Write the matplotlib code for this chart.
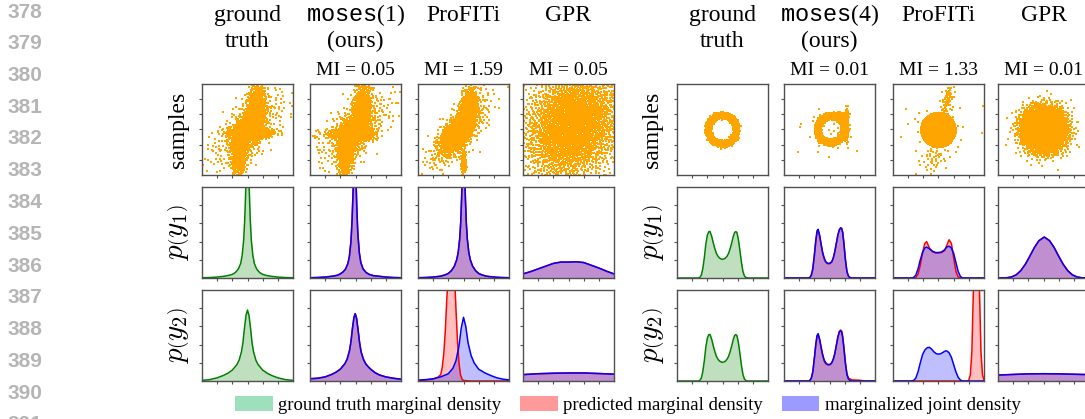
import numpy as np
import matplotlib.pyplot as plt
from matplotlib.patches import Patch

plt.rcParams['font.family'] = ['Liberation Serif', 'DejaVu Serif']
plt.rcParams['mathtext.fontset'] = 'custom'
plt.rcParams['mathtext.rm'] = 'Liberation Serif'
plt.rcParams['mathtext.tt'] = 'Liberation Mono'

W, H = 1085, 419

# ---- text ----
line_numbers = list(range(378, 392))
titles_left = [["ground", "truth"], [r"$\mathtt{moses}\mathrm{(1)}$", "(ours)"], ["ProFITi"], ["GPR"]]
titles_right = [["ground", "truth"], [r"$\mathtt{moses}\mathrm{(4)}$", "(ours)"], ["ProFITi"], ["GPR"]]
mi_left = [None, "0.05", "1.59", "0.05"]
mi_right = [None, "0.01", "1.33", "0.01"]
row_labels = ["samples", r"$p\left(y_1\right)$", r"$p\left(y_2\right)$"]
legend_labels = ["ground truth marginal density", "predicted marginal density", "marginalized joint density"]

# ---- samples: mixture pieces read off the clouds (count, centre, spread) ----
# gauss: (n, mx, my, sx, sy, rho) ; ring: (n, cx, cy, radius, width) ; disk: (n, cx, cy, radius)
smp_gt1 = [("gauss", 1100, 0.0, -0.25, 0.55, 0.18, 0.0),
           ("gauss", 1000, 0.55, 1.0, 0.32, 0.95, 0.2),
           ("gauss", 900, -0.5, -1.2, 0.26, 0.9, 0.2),
           ("gauss", 400, 0.0, 0.0, 1.3, 1.3, 0.7),
           ("gauss", 150, 0.5, -0.2, 0.9, 0.15, 0.0)]
smp_mos1 = [("gauss", 1100, -0.1, -0.3, 0.55, 0.2, 0.0),
            ("gauss", 1000, 0.4, 1.0, 0.3, 0.95, 0.2),
            ("gauss", 900, -0.6, -1.2, 0.28, 0.9, 0.2),
            ("gauss", 400, 0.0, 0.0, 1.3, 1.3, 0.7),
            ("gauss", 120, -0.8, -0.3, 1.0, 0.2, 0.0)]
smp_pro1 = [("gauss", 1600, -0.5, -0.3, 0.42, 0.5, 0.5),
            ("gauss", 700, 0.35, 1.3, 0.3, 0.7, 0.3),
            ("gauss", 600, -0.3, -0.2, 0.95, 1.1, 0.75),
            ("gauss", 100, 0.0, -2.2, 0.1, 0.5, 0.0)]
smp_gpr1 = [("gauss", 3200, 0.3, 0.3, 1.7, 1.9, 0.2)]
smp_gt4 = [("ring", 3000, 0.0, -0.02, 0.95, 0.09)]
smp_mos4 = [("ring", 2600, 0.1, 0.0, 0.88, 0.09),
            ("gauss", 160, 0.5, 1.02, 0.35, 0.05, 0.0),
            ("gauss", 200, 1.15, 0.3, 0.05, 0.5, 0.0),
            ("gauss", 40, 0.0, -0.3, 1.0, 0.8, 0.0)]
smp_pro4 = [("disk", 3000, 0.0, -0.03, 1.15),
            ("gauss", 70, 0.6, 2.0, 0.2, 0.6, 0.6),
            ("gauss", 50, -0.3, -1.9, 0.5, 0.55, 0.3),
            ("gauss", 40, 0.0, 0.0, 1.3, 1.0, 0.0)]
smp_gpr4 = [("gauss", 4000, 0.03, 0.0, 0.7, 0.7, 0.0)]

# ---- marginal densities (fraction of panel height) ----
gt1_y1_x = [-3, -2.5, -2, -1.5, -1.2, -1.0, -0.8, -0.6, -0.45, -0.35, -0.25, -0.18, -0.12, -0.08, -0.04, 0,
            0.04, 0.08, 0.12, 0.18, 0.25, 0.35, 0.45, 0.6, 0.8, 1.0, 1.2, 1.5, 2, 2.5, 3]
gt1_y1 = [0.003, 0.005, 0.01, 0.02, 0.03, 0.04, 0.06, 0.1, 0.16, 0.25, 0.42, 0.65, 0.95, 1.15, 1.4, 1.6,
          1.4, 1.15, 0.95, 0.65, 0.42, 0.25, 0.16, 0.1, 0.06, 0.04, 0.03, 0.02, 0.01, 0.005, 0.003]
mos1_y1_x = [-3, -2.5, -2, -1.5, -1.2, -1.0, -0.8, -0.65, -0.5, -0.4, -0.3, -0.23, -0.17, -0.12, -0.08,
             -0.05, -0.02, 0.03, 0.08, 0.15, 0.25, 0.35, 0.5, 0.7, 0.9, 1.2, 1.5, 2, 2.5, 3]
mos1_y1 = [0.003, 0.005, 0.01, 0.02, 0.03, 0.045, 0.07, 0.1, 0.16, 0.24, 0.4, 0.62, 0.9, 1.15, 1.4,
           1.6, 1.4, 1.1, 0.8, 0.5, 0.28, 0.17, 0.1, 0.06, 0.04, 0.025, 0.02, 0.01, 0.005, 0.003]
pro1_y1_x = [-3, -2.5, -2, -1.5, -1.2, -1.0, -0.8, -0.6, -0.45, -0.35, -0.25, -0.18, -0.12, -0.07, -0.03, 0,
             0.03, 0.07, 0.12, 0.18, 0.25, 0.35, 0.45, 0.6, 0.8, 1.0, 1.2, 1.5, 2, 2.5, 3]
pro1_y1 = [0.003, 0.005, 0.01, 0.02, 0.035, 0.05, 0.08, 0.13, 0.2, 0.28, 0.43, 0.62, 0.9, 1.2, 1.45, 1.6,
           1.45, 1.2, 0.9, 0.62, 0.43, 0.28, 0.2, 0.13, 0.08, 0.05, 0.035, 0.02, 0.01, 0.005, 0.003]
gpr1_y1_x = [-3, -2.5, -2, -1.5, -1, -0.5, 0, 0.5, 1, 1.5, 2, 2.5, 3]
gpr1_y1 = [0.045, 0.07, 0.1, 0.13, 0.16, 0.175, 0.175, 0.178, 0.17, 0.14, 0.11, 0.075, 0.045]

gt1_y2_x = [-3, -2.5, -2, -1.6, -1.3, -1.0, -0.85, -0.7, -0.55, -0.4, -0.3, -0.2, -0.1, 0,
            0.1, 0.2, 0.3, 0.4, 0.55, 0.7, 0.85, 1.0, 1.3, 1.6, 2, 2.5, 3]
gt1_y2 = [0.007, 0.015, 0.035, 0.06, 0.085, 0.12, 0.15, 0.18, 0.23, 0.32, 0.42, 0.58, 0.72, 0.78,
          0.72, 0.58, 0.42, 0.32, 0.23, 0.18, 0.15, 0.12, 0.085, 0.06, 0.035, 0.015, 0.007]
mos1_y2_x = [-3, -2.5, -2, -1.6, -1.3, -1.0, -0.85, -0.7, -0.55, -0.4, -0.3, -0.2, -0.1, -0.02,
             0.07, 0.17, 0.27, 0.37, 0.52, 0.67, 0.82, 1.0, 1.3, 1.6, 2, 2.5, 3]
mos1_y2 = [0.025, 0.03, 0.045, 0.07, 0.095, 0.13, 0.16, 0.19, 0.24, 0.33, 0.43, 0.58, 0.7, 0.74,
           0.69, 0.56, 0.42, 0.32, 0.24, 0.19, 0.16, 0.13, 0.09, 0.065, 0.045, 0.03, 0.02]
pro1_y2_red_x = [-3, -2.5, -2, -1.7, -1.5, -1.4, -1.3, -1.2, -1.1, -1.0, -0.9, -0.8, -0.7, -0.6, -0.5,
                 -0.4, -0.3, -0.2, -0.1, 0, 0.5, 3]
pro1_y2_red = [0.005, 0.01, 0.02, 0.04, 0.07, 0.15, 0.3, 0.55, 0.9, 1.2, 1.5, 1.6, 1.5, 1.2, 0.8,
               0.45, 0.2, 0.07, 0.02, 0.005, 0.0, 0.0]
pro1_y2_blue_x = [-3, -2.5, -2, -1.5, -1.0, -0.7, -0.5, -0.3, -0.15, 0, 0.15, 0.3, 0.5, 0.7, 1.0,
                  1.4, 1.8, 2.2, 2.6, 3]
pro1_y2_blue = [0.01, 0.015, 0.025, 0.045, 0.08, 0.14, 0.22, 0.38, 0.58, 0.70, 0.6, 0.42, 0.28, 0.2,
                0.13, 0.09, 0.06, 0.035, 0.02, 0.012]
gpr1_y2_x = [-3, -2, -1, 0, 1, 2, 3]
gpr1_y2 = [0.07, 0.08, 0.085, 0.088, 0.088, 0.082, 0.075]

gt4_x = [-3, -1.6, -1.5, -1.4, -1.3, -1.2, -1.1, -1.0, -0.9, -0.82, -0.7, -0.6, -0.5, -0.4, -0.3, -0.2,
         -0.1, 0, 0.1, 0.2, 0.3, 0.4, 0.5, 0.6, 0.7, 0.8, 0.88, 0.95, 1.05, 1.15, 1.25, 1.35, 1.45, 1.55,
         1.65, 3]
gt4_y = [0, 0, 0.005, 0.03, 0.1, 0.22, 0.37, 0.47, 0.51, 0.51, 0.45, 0.38, 0.32, 0.27, 0.24, 0.22,
         0.21, 0.205, 0.21, 0.22, 0.24, 0.27, 0.32, 0.38, 0.45, 0.5, 0.51, 0.5, 0.42, 0.3, 0.17, 0.07,
         0.02, 0.005, 0, 0]
mos4_x = [-3, -1.4, -1.3, -1.2, -1.1, -1.0, -0.9, -0.82, -0.75, -0.65, -0.55, -0.45, -0.35, -0.25, -0.15,
          -0.05, 0.05, 0.15, 0.25, 0.35, 0.45, 0.55, 0.65, 0.73, 0.8, 0.87, 0.95, 1.05, 1.15, 1.25, 1.35,
          1.45, 3]
mos4_y1_blue = [0, 0, 0.005, 0.03, 0.1, 0.25, 0.42, 0.52, 0.535, 0.47, 0.37, 0.28, 0.22, 0.18, 0.165,
                0.16, 0.165, 0.18, 0.22, 0.29, 0.38, 0.47, 0.53, 0.55, 0.545, 0.5, 0.38, 0.2, 0.07, 0.02,
                0.005, 0, 0]
mos4_y1_red = [0, 0, 0.005, 0.03, 0.1, 0.24, 0.4, 0.5, 0.52, 0.46, 0.36, 0.27, 0.21, 0.175, 0.16,
               0.155, 0.16, 0.175, 0.22, 0.29, 0.38, 0.47, 0.53, 0.55, 0.545, 0.5, 0.38, 0.2, 0.07, 0.02,
               0.005, 0, 0]
mos4_y2_blue = [0, 0, 0.005, 0.03, 0.1, 0.25, 0.41, 0.5, 0.52, 0.46, 0.37, 0.29, 0.23, 0.2, 0.185,
                0.18, 0.185, 0.2, 0.24, 0.3, 0.39, 0.48, 0.54, 0.55, 0.54, 0.48, 0.36, 0.19, 0.07, 0.02,
                0.005, 0, 0]
mos4_y2_red_x = [-3, -1.4, -1.3, -1.2, -1.1, -1.0, -0.9, -0.82, -0.75, -0.65, -0.55, -0.45, -0.35, -0.25,
                 -0.15, -0.05, 0.05, 0.15, 0.25, 0.35, 0.45, 0.55, 0.65, 0.73, 0.8, 0.87, 0.95, 1.05, 1.15,
                 1.25, 1.5, 2.0, 2.35, 3]
mos4_y2_red = [0, 0, 0.005, 0.03, 0.1, 0.24, 0.4, 0.49, 0.51, 0.45, 0.36, 0.28, 0.22, 0.19, 0.18,
               0.175, 0.18, 0.2, 0.24, 0.3, 0.39, 0.48, 0.545, 0.56, 0.55, 0.49, 0.37, 0.2, 0.08, 0.03,
               0.012, 0.008, 0.0, 0]
pro4_y1_x = [-3, -1.8, -1.65, -1.5, -1.35, -1.2, -1.05, -0.9, -0.78, -0.6, -0.4, -0.2, 0, 0.2, 0.4, 0.55,
             0.7, 0.85, 1.0, 1.15, 1.3, 1.45, 1.6, 3]
pro4_y1_blue = [0, 0, 0.005, 0.03, 0.1, 0.2, 0.28, 0.33, 0.34, 0.32, 0.295, 0.28, 0.28, 0.285, 0.31, 0.34,
                0.35, 0.33, 0.27, 0.17, 0.07, 0.015, 0, 0]
pro4_y1_red = [0, 0, 0, 0.005, 0.04, 0.14, 0.28, 0.38, 0.40, 0.33, 0.29, 0.275, 0.275, 0.28, 0.3, 0.36,
               0.42, 0.38, 0.22, 0.07, 0.01, 0, 0, 0]
pro4_y2_blue_x = [-3, -1.8, -1.65, -1.5, -1.35, -1.2, -1.05, -0.9, -0.75, -0.6, -0.45, -0.3, -0.15, 0, 0.15,
                  0.3, 0.45, 0.55, 0.7, 0.85, 1.0, 1.15, 1.3, 1.45, 1.6, 3]
pro4_y2_blue = [0, 0, 0.005, 0.03, 0.1, 0.2, 0.29, 0.34, 0.365, 0.37, 0.35, 0.32, 0.3, 0.295, 0.3, 0.315,
                0.33, 0.33, 0.31, 0.26, 0.18, 0.1, 0.04, 0.01, 0, 0]
pro4_y2_red_x = [-3, 1.9, 2.0, 2.1, 2.2, 2.3, 2.4, 2.5, 2.6, 2.7, 2.8, 2.9, 3.0]
pro4_y2_red = [0, 0, 0.01, 0.07, 0.32, 1.0, 1.93, 2.4, 1.93, 1.0, 0.32, 0.07, 0.01]
gpr4_y1_x = [-3, -2.4, -2.1, -1.8, -1.5, -1.2, -0.9, -0.6, -0.3, 0.05, 0.4, 0.7, 1.0, 1.3, 1.6, 1.9, 2.2,
             2.5, 3]
gpr4_y1 = [0, 0.003, 0.012, 0.035, 0.08, 0.15, 0.24, 0.335, 0.41, 0.45, 0.41, 0.335, 0.24, 0.15, 0.08,
           0.035, 0.012, 0.003, 0]
gpr4_y2_x = [-3, -2, -1, 0, 1, 2, 3]
gpr4_y2 = [0.065, 0.072, 0.078, 0.08, 0.078, 0.074, 0.07]

samples_left = [smp_gt1, smp_mos1, smp_pro1, smp_gpr1]
samples_right = [smp_gt4, smp_mos4, smp_pro4, smp_gpr4]
dens_left = [
    [[("gt", gt1_y1_x, gt1_y1)], [("pred", mos1_y1_x, mos1_y1), ("joint", mos1_y1_x, mos1_y1)],
     [("pred", pro1_y1_x, pro1_y1), ("joint", pro1_y1_x, pro1_y1)],
     [("pred", gpr1_y1_x, gpr1_y1), ("joint", gpr1_y1_x, gpr1_y1)]],
    [[("gt", gt1_y2_x, gt1_y2)], [("pred", mos1_y2_x, mos1_y2), ("joint", mos1_y2_x, mos1_y2)],
     [("pred", pro1_y2_red_x, pro1_y2_red), ("joint", pro1_y2_blue_x, pro1_y2_blue)],
     [("pred", gpr1_y2_x, gpr1_y2), ("joint", gpr1_y2_x, gpr1_y2)]],
]
dens_right = [
    [[("gt", gt4_x, gt4_y)], [("pred", mos4_x, mos4_y1_red), ("joint", mos4_x, mos4_y1_blue)],
     [("pred", pro4_y1_x, pro4_y1_red), ("joint", pro4_y1_x, pro4_y1_blue)],
     [("pred", gpr4_y1_x, gpr4_y1), ("joint", gpr4_y1_x, gpr4_y1)]],
    [[("gt", gt4_x, gt4_y)], [("pred", mos4_y2_red_x, mos4_y2_red), ("joint", mos4_x, mos4_y2_blue)],
     [("pred", pro4_y2_red_x, pro4_y2_red), ("joint", pro4_y2_blue_x, pro4_y2_blue)],
     [("pred", gpr4_y2_x, gpr4_y2), ("joint", gpr4_y2_x, gpr4_y2)]],
]

STYLE = {"gt": "green", "pred": "red", "joint": "blue"}


def halton(n, base, start):
    i = np.arange(start, start + n)
    out = np.zeros(n)
    f = 1.0
    while np.any(i > 0):
        f /= base
        out += f * (i % base)
        i = i // base
    return out


def draw_points(pieces, seed):
    xs, ys = [], []
    for k, p in enumerate(pieces):
        kind, n = p[0], p[1]
        s = 1 + 3001 * (seed * 7 + k)
        u1, u2, u3 = halton(n, 2, s), halton(n, 3, s), halton(n, 5, s)
        if kind == "gauss":
            _, _, mx, my, sx, sy, rho = p
            r = np.sqrt(-2 * np.log(u1))
            z1, z2 = r * np.cos(2 * np.pi * u2), r * np.sin(2 * np.pi * u2)
            xs.append(mx + sx * z1)
            ys.append(my + sy * (rho * z1 + np.sqrt(1 - rho ** 2) * z2))
        elif kind == "ring":
            _, _, cx, cy, R, w = p
            rr = R + w * np.sqrt(-2 * np.log(u1)) * np.cos(2 * np.pi * u3)
            xs.append(cx + rr * np.cos(2 * np.pi * u2))
            ys.append(cy + rr * np.sin(2 * np.pi * u2))
        else:
            _, _, cx, cy, R = p
            rr = R * u1 ** 0.4
            xs.append(cx + rr * np.cos(2 * np.pi * u2))
            ys.append(cy + rr * np.sin(2 * np.pi * u2))
    return np.concatenate(xs), np.concatenate(ys)


def style_ax(ax):
    for sp in ax.spines.values():
        sp.set_color("#505050")
        sp.set_linewidth(1.0)
    ax.tick_params(direction="out", length=2, width=0.8, color="#505050",
                   labelleft=False, labelbottom=False)
    ax.set_xlim(-3, 3)
    ax.set_xticks([-2, -1, 0, 1, 2])


fig = plt.figure(figsize=(W / 100, H / 100), dpi=100)

for i, n in enumerate(line_numbers):
    fig.text(7 / W, 1 - (12 + 31.75 * i) / H, str(n), family="Liberation Sans", weight="bold",
             fontsize=15, color="#b5b5b5", ha="left", va="center")

groups = [([202, 310, 418, 523], titles_left, mi_left, samples_left, dens_left),
          ([677, 784, 893, 998], titles_right, mi_right, samples_right, dens_right)]
row_tops = [84, 187, 290]
size = 91

for g, (lefts, titles, mis, samples, dens) in enumerate(groups):
    for c, left in enumerate(lefts):
        cx = (left + size / 2) / W
        for li, t in enumerate(titles[c]):
            fig.text(cx, 1 - (21 + 26 * li) / H, t, fontsize=17, ha="center", va="baseline")
        if mis[c] is not None:
            fig.text(cx, 1 - 75 / H, "MI = " + mis[c], fontsize=14, ha="center", va="baseline")
        for r, top in enumerate(row_tops):
            ax = fig.add_axes([left / W, 1 - (top + size) / H, size / W, size / H])
            style_ax(ax)
            if r == 0:
                px, py = draw_points(samples[c], g * 4 + c)
                ax.scatter(px, py, s=0.7, marker="s", color="orange", linewidths=0)
                ax.set_ylim(-3, 3)
                ax.set_yticks([-2, -1, 0, 1, 2])
            else:
                for kind, xv, yv in dens[r - 1][c]:
                    col = STYLE[kind]
                    ax.fill_between(xv, 0, yv, color=col, alpha=0.25, linewidth=0)
                for kind, xv, yv in dens[r - 1][c]:
                    ax.plot(xv, yv, color=STYLE[kind], lw=1.1)
                ax.set_ylim(0, 1)
                ax.set_yticks([0.2, 0.4, 0.6, 0.8])
    for r, top in enumerate(row_tops):
        kw = {"math_fontfamily": "cm", "fontsize": 21} if r > 0 else {"fontsize": 17}
        fig.text((lefts[0] - 24) / W, 1 - (top + size / 2) / H, row_labels[r], rotation=90,
                 ha="center", va="center", **kw)

handles = [Patch(facecolor=c, edgecolor="none") for c in ["#9ee0bb", "#ff9a9a", "#9a9aff"]]
fig.legend(handles, legend_labels, loc="center", bbox_to_anchor=(628 / W, 1 - 405 / H), ncol=3,
           frameon=False, fontsize=13.5, handlelength=2.0, handleheight=0.85, handletextpad=0.3,
           columnspacing=1.0, borderpad=0)

fig.savefig("out.png", dpi=100)
